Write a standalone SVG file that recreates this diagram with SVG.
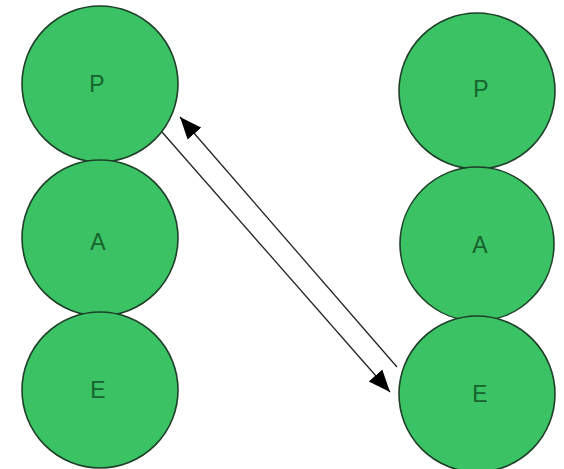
<svg xmlns="http://www.w3.org/2000/svg" width="564" height="469" viewBox="0 0 564 469">
  <style>
    .node circle { fill: #3ac264; stroke: #1e3f28; stroke-width: 1.6; }
    .node text { font-family: "Liberation Sans", Arial, sans-serif; font-size: 23px; fill: #17632e; text-anchor: middle; }
    .conn line { stroke: #222; stroke-width: 1.3; fill: none; }
  </style>
  <defs>
    <marker id="arrow" markerUnits="userSpaceOnUse" markerWidth="24" markerHeight="20" refX="22" refY="10" orient="auto">
      <path d="M0,1 L22,10 L0,19 Z" fill="#000"/>
    </marker>
  </defs>
  <rect width="564" height="469" fill="#fff"/>
  <g id="left-P" class="node"><circle cx="100" cy="84" r="78"/><text x="97" y="92">P</text></g>
  <g id="left-A" class="node"><circle cx="100" cy="238" r="78"/><text x="98" y="250">A</text></g>
  <g id="left-E" class="node"><circle cx="100" cy="390" r="78"/><text x="98" y="398">E</text></g>
  <g id="right-P" class="node"><circle cx="477" cy="91" r="78"/><text x="481" y="97">P</text></g>
  <g id="right-A" class="node"><circle cx="477" cy="244" r="77"/><text x="480" y="253">A</text></g>
  <g id="right-E" class="node"><circle cx="477" cy="394" r="78"/><text x="480" y="402">E</text></g>
  <g id="connectors" class="conn">
    <line x1="397" y1="367" x2="180" y2="117" marker-end="url(#arrow)"/>
    <line x1="162" y1="132" x2="390" y2="392" marker-end="url(#arrow)"/>
  </g>
</svg>
